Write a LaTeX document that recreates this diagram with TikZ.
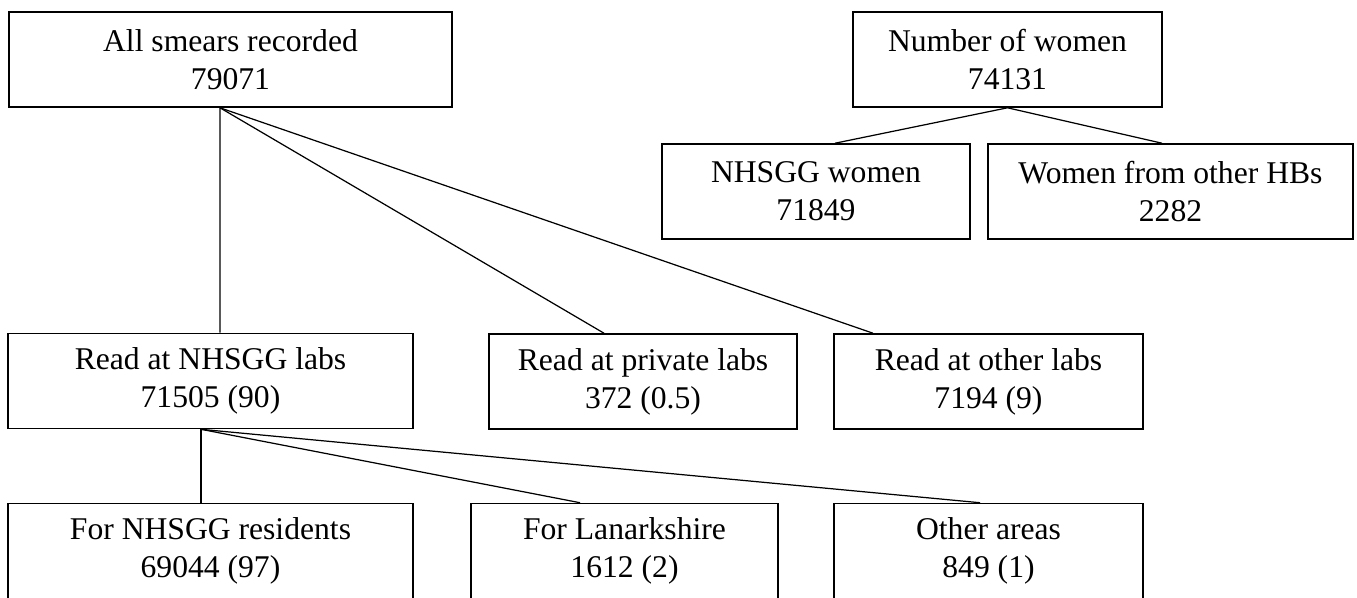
\documentclass[tikz,border=0pt]{standalone}
\usepackage{fontspec}
\setmainfont{Liberation Serif}
\usepackage{tikz}
\usetikzlibrary{positioning}

\begin{document}
\begin{tikzpicture}[box/.style={rectangle, draw=black, line width=0.9pt, inner sep=0pt, align=center, minimum height=1.9cm, font=\fontsize{18}{21.5}\selectfont}, link/.style={draw=black, line width=0.7pt}]

    \useasboundingbox (0,0) rectangle (27.14,-11.94);

    %Nodes
    \node[box, minimum width=8.86cm](smears) at (4.61,-1.19){All smears recorded\\79071};
    \node[box, minimum width=6.18cm](women) at (20.15,-1.19){Number of women\\74131};
    \node[box, minimum width=6.16cm](nhsggwomen) at (16.32,-3.83){NHSGG women\\71849};
    \node[box, minimum width=7.30cm](otherhbs) at (23.41,-3.83){Women from other HBs\\2282};
    \node[box, minimum width=8.10cm](nhsgglabs) at (4.21,-7.62){Read at NHSGG labs\\71505 (90)};
    \node[box, minimum width=6.16cm](privatelabs) at (12.86,-7.63){Read at private labs\\372 (0.5)};
    \node[box, minimum width=6.18cm](otherlabs) at (19.77,-7.63){Read at other labs\\7194 (9)};
    \node[box, minimum width=8.10cm](residents) at (4.21,-11.02){For NHSGG residents\\69044 (97)};
    \node[box, minimum width=6.14cm](lanark) at (12.49,-11.02){For Lanarkshire\\1612 (2)};
    \node[box, minimum width=6.18cm](otherareas) at (19.77,-11.02){Other areas\\849 (1)};

    %Lines
    \draw[link] ([xshift=-0.21cm]smears.south) -- ([xshift=0.19cm]nhsgglabs.north);
    \draw[link] ([xshift=-0.21cm]smears.south) -- ([xshift=-0.78cm]privatelabs.north);
    \draw[link] ([xshift=-0.21cm]smears.south) -- ([xshift=-2.31cm]otherlabs.north);
    \draw[link] (women.south) -- ([xshift=0.38cm]nhsggwomen.north);
    \draw[link] (women.south) -- ([xshift=-0.17cm]otherhbs.north);
    \draw[link] ([xshift=-0.19cm]nhsgglabs.south) -- ([xshift=-0.19cm]residents.north);
    \draw[link] ([xshift=-0.19cm]nhsgglabs.south) -- ([xshift=-0.89cm]lanark.north);
    \draw[link] ([xshift=-0.19cm]nhsgglabs.south) -- ([xshift=-0.17cm]otherareas.north);

\end{tikzpicture}
\end{document}
